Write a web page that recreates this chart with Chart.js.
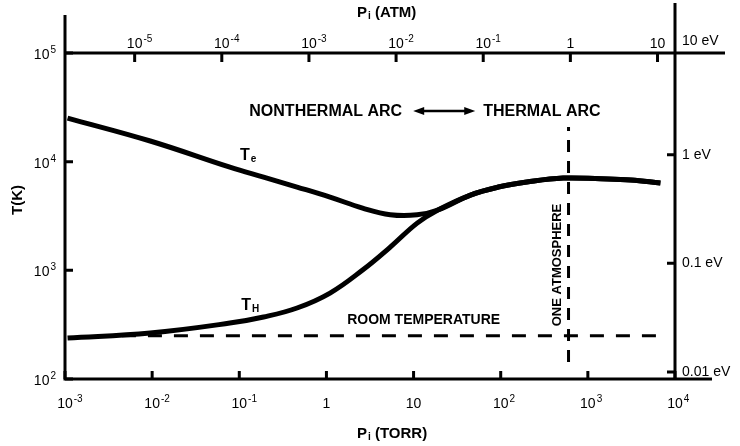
<!DOCTYPE html>
<html>
<head>
<meta charset="utf-8">
<script src="https://cdn.jsdelivr.net/npm/chart.js@4.4.0/dist/chart.umd.min.js"></script>
<style>
	html, body { margin: 0; padding: 0; background: #fff; }
	#wrap { width: 740px; height: 446px; }
</style>
</head>
<body>
<div id="wrap"><canvas id="arc-chart" width="740" height="446"></canvas></div>
<script>
// pressure (torr) while Te and TH are still apart
const torrSplit = [0.00107, 0.0095, 0.078, 0.19, 0.46, 1.1, 2.6, 5.4, 11]
const electronK = [25200, 15500, 8900, 7200, 5840, 4720, 3740, 3250, 3240]
const heavyK    = [238, 265, 327, 372, 450, 618, 1007, 1637, 2720]

// from ~20 torr on both temperatures follow one curve
const torrMerged = [19, 45, 94, 200, 520, 1400, 3100, 6800]
const mergedK    = [3590, 4930, 5840, 6490, 7060, 6950, 6780, 6360]

// reference lines
const roomTorr = [0.0045, 6400]
const roomK    = [250, 250]
const atmTorr  = [600, 600]
const atmK     = [143, 20800]

// axes
const torrTicks  = [1e-3, 1e-2, 1e-1, 1, 10, 1e2, 1e3, 1e4]
const torrLabels = ['10^-3', '10^-2', '10^-1', '1', '10', '10^2', '10^3', '10^4']
const atmTicks   = [1e-5, 1e-4, 1e-3, 1e-2, 1e-1, 1, 10]
const atmLabels  = ['10^-5', '10^-4', '10^-3', '10^-2', '10^-1', '1', '10']
const kTicks     = [1e2, 1e3, 1e4, 1e5]
const kLabels    = ['10^2', '10^3', '10^4', '10^5']
const evTicks    = [0.01, 0.1, 1, 10]
const evLabels   = ['0.01 eV', '0.1 eV', '1 eV', '10 eV']

const torrPerAtm = 630
const kelvinPerEv = 11605

const FONT = '"Liberation Sans", Arial, sans-serif'

function points(xs, ys) {
	return xs.map((x, i) => ({ x: x, y: ys[i] }))
}

// "10^-3" -> 10 with a raised -3
function drawPow(ctx, label, x, y, mode) {
	const parts = label.split('^')
	ctx.font = '14px ' + FONT
	const bw = ctx.measureText(parts[0]).width
	ctx.font = '10px ' + FONT
	const ew = parts[1] ? ctx.measureText(parts[1]).width + 1 : 0
	let start = x
	if (mode === 'center') start = x - bw / 2
	if (mode === 'right') start = x - bw - ew
	ctx.textAlign = 'left'
	ctx.textBaseline = 'alphabetic'
	ctx.font = '14px ' + FONT
	ctx.fillText(parts[0], start, y)
	if (parts[1]) {
		ctx.font = '10px ' + FONT
		ctx.fillText(parts[1], start + bw + 1, y - 6)
	}
}

// big letter with small subscript, e.g. T + e
function drawSub(ctx, main, sub, x, y, size, subSize) {
	ctx.textAlign = 'left'
	ctx.textBaseline = 'alphabetic'
	ctx.font = 'bold ' + size + 'px ' + FONT
	ctx.fillText(main, x, y)
	const w = ctx.measureText(main).width
	ctx.font = 'bold ' + subSize + 'px ' + FONT
	ctx.fillText(sub, x + w + 1, y + 2)
	return x + w + 1 + ctx.measureText(sub).width
}

const frame = {
	id: 'frame',
	afterDraw(chart) {
		const ctx = chart.ctx
		const a = chart.chartArea
		const sx = chart.scales.x
		const sy = chart.scales.y
		const sa = chart.scales.xAtm
		const se = chart.scales.yEv

		ctx.save()
		ctx.strokeStyle = '#000'
		ctx.fillStyle = '#000'
		ctx.lineWidth = 3

		// axis lines, drawn like the hand-made original
		ctx.beginPath()
		ctx.moveTo(a.left, 15); ctx.lineTo(a.left, a.bottom + 1.5)
		ctx.moveTo(a.left - 1.5, a.bottom); ctx.lineTo(712, a.bottom)
		ctx.moveTo(a.left, a.top); ctx.lineTo(725, a.top)
		ctx.moveTo(a.right, 3); ctx.lineTo(a.right, a.bottom + 1.5)
		ctx.stroke()

		// inward tick marks
		ctx.beginPath()
		torrTicks.forEach(v => {
			const px = sx.getPixelForValue(v)
			ctx.moveTo(px, a.bottom); ctx.lineTo(px, a.bottom - 8)
		})
		atmTicks.forEach(v => {
			const px = sa.getPixelForValue(v)
			ctx.moveTo(px, a.top); ctx.lineTo(px, a.top + 9)
		})
		kTicks.forEach(v => {
			const py = sy.getPixelForValue(v)
			ctx.moveTo(a.left, py); ctx.lineTo(a.left + 8, py)
		})
		evTicks.slice(0, 3).forEach(v => {
			const py = se.getPixelForValue(v)
			ctx.moveTo(a.right, py); ctx.lineTo(a.right - 8, py)
		})
		ctx.stroke()

		// tick labels
		torrTicks.forEach((v, i) => drawPow(ctx, torrLabels[i], sx.getPixelForValue(v), a.bottom + 29, 'center'))
		atmTicks.forEach((v, i) => drawPow(ctx, atmLabels[i], sa.getPixelForValue(v), a.top - 5, 'center'))
		kTicks.forEach((v, i) => drawPow(ctx, kLabels[i], 56, sy.getPixelForValue(v) + 6, 'right'))
		evTicks.forEach((v, i) => {
			const py = se.getPixelForValue(v)
			ctx.font = '14px ' + FONT
			ctx.textAlign = 'left'
			ctx.textBaseline = 'alphabetic'
			ctx.fillText(evLabels[i], a.right + 7, i === 3 ? py - 1 : py + 4)
		})

		// axis titles
		let ex = drawSub(ctx, 'P', 'i', 357, 17, 15, 10)
		ctx.font = 'bold 15px ' + FONT
		ctx.fillText(' (ATM)', ex, 17)
		ex = drawSub(ctx, 'P', 'i', 357, 438, 15, 10)
		ctx.font = 'bold 15px ' + FONT
		ctx.fillText(' (TORR)', ex, 438)

		ctx.save()
		ctx.translate(18, 200)
		ctx.rotate(-Math.PI / 2)
		ctx.font = 'bold 15px ' + FONT
		ctx.textAlign = 'center'
		ctx.textBaseline = 'middle'
		ctx.fillText('T(K)', 0, 0)
		ctx.restore()

		// regime labels and arrow
		const arcY = sy.getPixelForValue(29200)
		ctx.font = 'bold 16px ' + FONT
		ctx.textBaseline = 'middle'
		ctx.textAlign = 'right'
		ctx.fillText('NONTHERMAL ARC', sx.getPixelForValue(7.4), arcY)
		ctx.textAlign = 'left'
		ctx.fillText('THERMAL ARC', sx.getPixelForValue(63), arcY)

		const x1 = sx.getPixelForValue(9.9)
		const x2 = sx.getPixelForValue(51)
		ctx.lineWidth = 2.5
		ctx.beginPath()
		ctx.moveTo(x1 + 8, arcY); ctx.lineTo(x2 - 8, arcY)
		ctx.stroke()
		ctx.beginPath()
		ctx.moveTo(x1, arcY); ctx.lineTo(x1 + 11, arcY - 4); ctx.lineTo(x1 + 11, arcY + 4)
		ctx.closePath()
		ctx.moveTo(x2, arcY); ctx.lineTo(x2 - 11, arcY - 4); ctx.lineTo(x2 - 11, arcY + 4)
		ctx.closePath()
		ctx.fill()

		// curve names
		drawSub(ctx, 'T', 'e', sx.getPixelForValue(0.102), sy.getPixelForValue(11750) + 6, 16, 10)
		drawSub(ctx, 'T', 'H', sx.getPixelForValue(0.105), sy.getPixelForValue(490) + 6, 16, 10)

		ctx.font = 'bold 14px ' + FONT
		ctx.textAlign = 'left'
		ctx.textBaseline = 'middle'
		ctx.fillText('ROOM TEMPERATURE', sx.getPixelForValue(1.73), sy.getPixelForValue(349))

		ctx.save()
		ctx.translate(sx.getPixelForValue(446), sy.getPixelForValue(1120))
		ctx.rotate(-Math.PI / 2)
		ctx.font = 'bold 13px ' + FONT
		ctx.textAlign = 'center'
		ctx.textBaseline = 'middle'
		ctx.fillText('ONE ATMOSPHERE', 0, 0)
		ctx.restore()

		ctx.restore()
	}
}

const curve = {
	borderColor: '#000',
	borderWidth: 5,
	pointRadius: 0,
	tension: 0.4,
	fill: false
}

new Chart(document.getElementById('arc-chart'), {
	type: 'line',
	data: {
		datasets: [
			Object.assign({ label: 'Te', data: points(torrSplit.concat(torrMerged), electronK.concat(mergedK)) }, curve),
			Object.assign({ label: 'TH', data: points(torrSplit.concat(torrMerged), heavyK.concat(mergedK)) }, curve),
			{
				label: 'Room temperature',
				data: points(roomTorr, roomK),
				borderColor: '#000',
				borderWidth: 3,
				borderDash: [14, 12],
				pointRadius: 0
			},
			{
				label: 'One atmosphere',
				data: points(atmTorr, atmK),
				borderColor: '#000',
				borderWidth: 3,
				borderDash: [12, 9],
				pointRadius: 0
			}
		]
	},
	options: {
		responsive: false,
		animation: false,
		devicePixelRatio: 1,
		layout: { padding: { left: 65, right: 65, top: 53, bottom: 67 } },
		plugins: { legend: { display: false }, tooltip: { enabled: false } },
		scales: {
			x: { type: 'logarithmic', min: 1e-3, max: 1e4, display: false },
			y: { type: 'logarithmic', min: 100, max: 1e5, display: false },
			xAtm: { type: 'logarithmic', position: 'top', min: 1e-3 / torrPerAtm, max: 1e4 / torrPerAtm, display: false },
			yEv: { type: 'logarithmic', position: 'right', min: 100 / kelvinPerEv, max: 1e5 / kelvinPerEv, display: false }
		}
	},
	plugins: [frame]
})
</script>
</body>
</html>
